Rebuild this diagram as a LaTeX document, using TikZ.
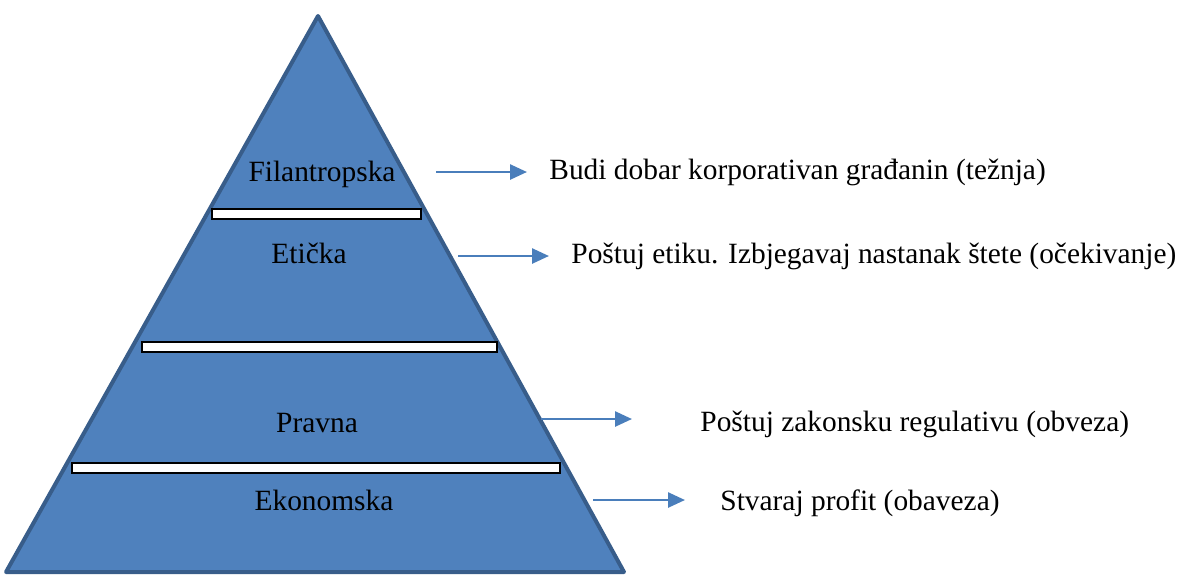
\documentclass[tikz,border=0pt]{standalone}
\usepackage{fontspec}
\setmainfont{Liberation Serif}
\usepackage{tikz}
\usetikzlibrary{positioning,arrows.meta}
\definecolor{pyrfill}{HTML}{4F81BD}
\definecolor{pyrline}{HTML}{385D8A}
\definecolor{arrowblue}{HTML}{4A7EBB}
\tikzset{
    level/.style={
        inner sep=0pt,
        anchor=base,
        font=\fontsize{14.7}{17}\selectfont
    },
    note/.style={
        inner sep=0pt,
        anchor=base west,
        font=\fontsize{14.7}{17}\selectfont
    },
    bar/.style={
        draw=black,
        fill=white,
        line width=0.6pt
    },
    pointer/.style={
        -{Triangle[length=8.5pt,width=7.5pt]},
        draw=arrowblue,
        line width=1.3pt
    }
}

\begin{document}
\begin{tikzpicture}[x=0.5pt,y=-0.5pt]
          \useasboundingbox (0,0) rectangle (1182,575);
          % pyramid
          \coordinate (top) at (318,16);
          \coordinate (bl) at (6,572);
          \coordinate (br) at (624,572);
          \draw [fill=pyrfill, draw=pyrline, line width=2pt, line join=round] (top) -- (br) -- (bl) -- cycle;
          \draw [bar] (212,209) rectangle (421,219);
          \draw [bar] (142,342) rectangle (497,352);
          \draw [bar] (72,463) rectangle (560,473);
          % levels
          \node (fil) [level] at (322,181) {Filantropska};
          \node (eti) [level] at (309,263) {Etička};
          \node (pra) [level] at (317,432) {Pravna};
          \node (eko) [level] at (324,510) {Ekonomska};
          % notes
          \node (n1) [note] at (549,179) {Budi dobar korporativan građanin (težnja)};
          \node (n2) [note] at (571,263) {Poštuj etiku. Izbjegavaj nastanak štete (očekivanje)};
          \node (n3) [note] at (700,431) {Poštuj zakonsku regulativu (obveza)};
          \node (n4) [note] at (720,510) {Stvaraj profit (obaveza)};
          % arrows
          \coordinate (s1) at (436,172);
          \coordinate (s2) at (458,256);
          \coordinate (s3) at (541,419);
          \coordinate (s4) at (593,500);
          \draw [pointer, shorten >=11pt] (s1) -- (s1 -| n1.west);
          \draw [pointer, shorten >=11pt] (s2) -- (s2 -| n2.west);
          \draw [pointer, shorten >=34pt] (s3) -- (s3 -| n3.west);
          \draw [pointer, shorten >=17.5pt] (s4) -- (s4 -| n4.west);
        \end{tikzpicture}
\end{document}
